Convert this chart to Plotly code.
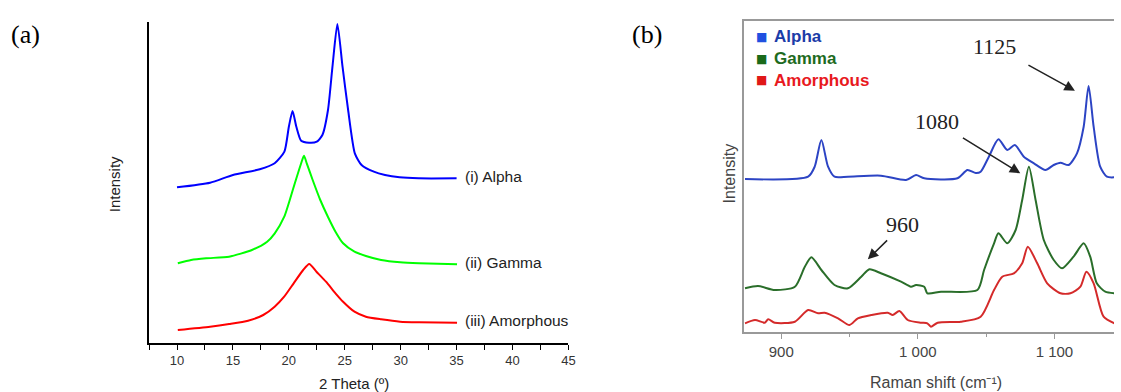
import plotly.graph_objects as go

# ---------------- Panel (a): XRD ----------------
xrd_alpha_x = [10, 12.96, 15.0, 17.4, 18.73, 19.6, 20.0, 20.33, 20.67, 21.1, 21.8, 22.5, 23.0, 23.5, 23.9, 24.34,
               24.8, 25.3, 25.9, 26.5, 27.6, 28.6, 29.9, 31.6, 35]
xrd_alpha_y = [155.7, 160.3, 168, 173.7, 179.7, 191.3, 216.3, 232, 216.3, 202.3, 200.3, 201.3, 208, 233, 276.3, 319,
               276.3, 233, 189.7, 178, 171.3, 168, 165.7, 164.7, 164.7]

xrd_gamma_x = [10.07, 11.26, 12.6, 14.66, 16.7, 18.06, 18.74, 19.59, 20.44, 21.1, 21.35, 21.6, 22.13, 22.81, 23.49,
               24.17, 24.85, 25.87, 26.89, 28.25, 29.95, 31.64, 35.04]
xrd_gamma_y = [79.7, 83, 84.7, 86.3, 93, 101.3, 109.7, 126.3, 156.3, 179.7, 187.3, 179.7, 163, 143, 126.3,
               111.3, 99.7, 91.3, 87, 83, 80.7, 79.7, 78.7]

xrd_amor_x = [10.07, 12.96, 14.66, 16.35, 17.71, 18.73, 19.58, 20.43, 21.28, 21.82, 22.47, 23.32, 24.17, 24.85,
              25.87, 26.89, 28.25, 29.95, 31.64, 35.04]
xrd_amor_y = [13, 16.3, 19, 22.3, 28, 36.3, 46.3, 59.7, 73, 79, 71.3, 61.3, 49.7, 41.3,
              31.3, 26.3, 23.7, 21.3, 20.7, 20.3]

xrd_labels = ["(i) Alpha", "(ii) Gamma", "(iii) Amorphous"]
xrd_ticks = [10, 15, 20, 25, 30, 35, 40, 45]

# ---------------- Panel (b): Raman ----------------
ram_alpha_x = [873.5, 919.7, 924.5, 929.4, 934.3, 939, 948.8, 973, 991.4, 998.7, 1004.7, 1029, 1036.3, 1042.4,
               1046, 1052, 1059, 1065.5, 1071, 1077.6, 1085, 1093.4, 1099.5, 1104.4, 1110.4, 1116.5, 1121.4,
               1125, 1128.7, 1133.5, 1138.4, 1144]
ram_alpha_y = [153, 155.3, 165.3, 192, 165.3, 155.3, 155.3, 156.3, 152, 157, 153.7, 153.7, 162, 159,
               160.3, 175.3, 192.7, 182, 187, 175.3, 168.7, 162, 167, 169.3, 167, 178.7, 205.3,
               246, 205.3, 165.3, 155.3, 154.7]

ram_gamma_x = [873.5, 883, 895.3, 910, 917.3, 922.1, 929.4, 939, 948.8, 958.6, 964.6, 973, 987.7, 995, 998.7,
               1004.7, 1007, 1017, 1043.6, 1048.5, 1055.8, 1059, 1065.5, 1071.6, 1076.4, 1081.3, 1086.2, 1092.2,
               1099.5, 1105.6, 1114, 1121.4, 1126.2, 1131, 1137.2, 1144]
ram_gamma_y = [43.7, 46, 42, 45.3, 65.3, 74.7, 62, 47, 43.7, 55.3, 62.7, 58.7, 50.3, 45.3, 47,
               45.3, 38.7, 40.3, 42, 62, 88.7, 98.7, 88.7, 102, 132, 165.3, 132, 92,
               72, 63.7, 75.3, 88.7, 75.3, 48.7, 40.3, 38.7]

ram_amor_x = [873.5, 880.8, 888, 890.5, 895.3, 910, 919.7, 927, 931.8, 941.6, 950, 956.1, 965.9, 978, 981.6,
              986.5, 992.6, 1002.3, 1007, 1009.6, 1014.5, 1031.5, 1046, 1055.8, 1061.8, 1070.3, 1076.4, 1080.5,
              1087.4, 1094.7, 1104.4, 1111.7, 1119, 1123.4, 1128.7, 1136, 1144]
ram_amor_y = [8.7, 12, 9.3, 12.7, 9.3, 10.3, 22, 18.7, 19.3, 13.7, 7, 13.7, 17, 19.3, 17,
              21, 12, 9.3, 8.7, 5.3, 9.3, 10.3, 15.3, 42, 55.3, 58.7, 68.7, 85.3,
              68.7, 48.7, 38.7, 38.7, 45.3, 60.3, 48.7, 15.3, 8.7]

ram_names = ["Alpha", "Gamma", "Amorphous"]
ram_ticks = [900, 1000, 1100]
ram_peaks = ["1125", "1080", "960"]
ram_peak_tip_x = [1115.0, 1075.0, 963.4]
ram_peak_tip_y = [241.3, 158.7, 72.7]

W, H = 1121, 392

def px(v):
    return v / W

def py(v):
    return 1 - v / H

fig = go.Figure()

# panel (a) traces
for xs, ys, col in [(xrd_alpha_x, xrd_alpha_y, "#0000ff"),
                    (xrd_gamma_x, xrd_gamma_y, "#00ff00"),
                    (xrd_amor_x, xrd_amor_y, "#ff0000")]:
    fig.add_trace(go.Scatter(x=xs, y=ys, mode="lines", line=dict(color=col, width=2, shape="spline", smoothing=0.6),
                             xaxis="x", yaxis="y", showlegend=False, hoverinfo="skip"))

# panel (b) traces
for xs, ys, col in [(ram_alpha_x, ram_alpha_y, "#2c44c4"),
                    (ram_gamma_x, ram_gamma_y, "#2a6e2a"),
                    (ram_amor_x, ram_amor_y, "#d42a2a")]:
    fig.add_trace(go.Scatter(x=xs, y=ys, mode="lines", line=dict(color=col, width=2, shape="spline", smoothing=0.7),
                             xaxis="x2", yaxis="y2", showlegend=False, hoverinfo="skip"))

fig.update_layout(
    width=W, height=H,
    margin=dict(l=0, r=0, t=0, b=0),
    paper_bgcolor="white", plot_bgcolor="white",
    separators=". ",
    xaxis=dict(domain=[px(150), px(572)], range=[7.5, 45], tickvals=xrd_ticks,
               showline=True, linecolor="black", linewidth=1.5, ticks="outside", ticklen=5, tickwidth=1,
               tickcolor="black", minor=dict(tickvals=[7.5, 12.5, 17.5, 22.5, 27.5, 32.5, 37.5, 42.5],
                                              ticks="outside", ticklen=5, tickcolor="black"),
               showgrid=False, zeroline=False, tickfont=dict(family="Arial", size=13, color="#333"),
               anchor="y"),
    yaxis=dict(domain=[py(343), py(22)], range=[0, 321], showline=True, linecolor="black", linewidth=1.5,
               showticklabels=False, ticks="", showgrid=False, zeroline=False, anchor="x"),
    xaxis2=dict(domain=[px(749), 1], range=[873, 1143.6], tickvals=ram_ticks, tickformat=",",
                showline=True, mirror=True, linecolor="#999", linewidth=1.5, ticks="outside", ticklen=5,
                tickcolor="#999", minor=dict(tickvals=[950, 1050], ticks="outside", ticklen=3, tickcolor="#999"),
                showgrid=False, zeroline=False, tickfont=dict(family="Arial", size=15, color="#444"),
                anchor="y2"),
    yaxis2=dict(domain=[py(332), py(20.7)], range=[0, 311.3], showline=True, linecolor="#999", linewidth=1.5,
                showticklabels=False, ticks="", showgrid=False, zeroline=False, anchor="x2"),
)

ann = []
# panel labels
ann.append(dict(text="(a)", x=px(9), y=py(34), xref="paper", yref="paper", xanchor="left", yanchor="middle",
                showarrow=False, font=dict(family="Liberation Serif", size=26, color="black")))
ann.append(dict(text="(b)", x=px(634), y=py(34), xref="paper", yref="paper", xanchor="left", yanchor="middle",
                showarrow=False, font=dict(family="Liberation Serif", size=26, color="black")))
# panel (a) axis titles
ann.append(dict(text="Intensity", x=px(115), y=py(184), xref="paper", yref="paper", textangle=-90,
                xanchor="center", yanchor="middle",
                showarrow=False, font=dict(family="Arial", size=15, color="#222")))
ann.append(dict(text="2 Theta (º)", x=px(356), y=py(383), xref="paper", yref="paper",
                xanchor="center", yanchor="middle",
                showarrow=False, font=dict(family="Arial", size=15, color="#222")))
# panel (a) curve labels
for lab, ys in zip(xrd_labels, [xrd_alpha_y, xrd_gamma_y, xrd_amor_y]):
    ann.append(dict(text=lab, x=35.55, y=ys[-1] + 2, xref="x", yref="y", xanchor="left", yanchor="middle",
                    showarrow=False, font=dict(family="Arial", size=15.5, color="#222")))
# panel (b) axis titles
ann.append(dict(text="Intensity", x=px(734), y=py(173), xref="paper", yref="paper", textangle=-90,
                xanchor="center", yanchor="middle",
                showarrow=False, font=dict(family="Arial", size=16, color="#444")))
ann.append(dict(text="Raman shift (cm⁻¹)", x=px(942), y=py(382), xref="paper", yref="paper",
                xanchor="center", yanchor="middle",
                showarrow=False, font=dict(family="Arial", size=16, color="#444")))
# panel (b) legend: square markers + bold labels
leg_sq = ["#2050e0", "#1a6a1a", "#e01818"]
leg_tx = ["#1b3ca8", "#1e6b1e", "#e8191e"]
for i, (nm, sq, tx) in enumerate(zip(ram_names, leg_sq, leg_tx)):
    yy = py(37 + 21.5 * i)
    ann.append(dict(text="■", x=px(759), y=yy, xref="paper", yref="paper", xanchor="left", yanchor="middle",
                    showarrow=False, font=dict(family="DejaVu Sans", size=12, color=sq)))
    ann.append(dict(text=f"<b>{nm}</b>", x=px(777), y=yy, xref="paper", yref="paper", xanchor="left",
                    yanchor="middle", showarrow=False, font=dict(family="Arial", size=17, color=tx)))
# panel (b) peak annotations with arrows (text at the arrow tail)
offs = [(-80, -44, 12), (-83.4, -51.6, 4), (35, -34.3, 2)]
for txt, xt, yt, (axo, ayo, sso) in zip(ram_peaks, ram_peak_tip_x, ram_peak_tip_y, offs):
    ann.append(dict(text=txt, x=xt, y=yt, xref="x2", yref="y2", showarrow=True, arrowhead=2, arrowsize=1.4,
                    arrowwidth=1.5, arrowcolor="#222", ax=axo, ay=ayo, axref="pixel", ayref="pixel",
                    startstandoff=sso, xanchor="center", yanchor="middle",
                    font=dict(family="Liberation Serif", size=22, color="#222")))

fig.update_layout(annotations=ann)
fig.write_html("out.html", config={"displayModeBar": False},
               post_script="document.body.style.margin='0';")
